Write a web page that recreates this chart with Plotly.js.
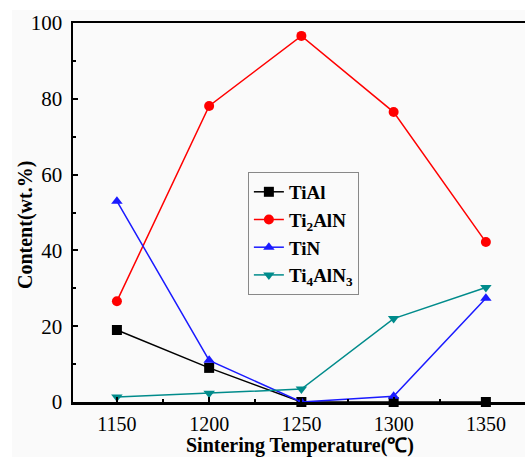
<!DOCTYPE html>
<html><head><meta charset="utf-8">
<script src="https://cdn.plot.ly/plotly-3.0.1.min.js"></script>
<style>html,body{margin:0;padding:0;overflow:hidden;background:#fff;}#c{width:542px;height:457px;}</style>
</head><body><div id="c"></div>
<script>
const temps = [1150, 1200, 1250, 1300, 1350];
const tiAl = [19, 9, 0, 0, 0];
const ti2AlN = [26.6, 78.1, 96.6, 76.5, 42.2];
const tiN = [53, 11, 0, 1.5, 27.4];
const ti4AlN3 = [1.3, 2.3, 3.4, 22, 30.2];
const names = ['TiAl', 'Ti<sub>2</sub>AlN', 'TiN', 'Ti<sub>4</sub>AlN<sub>3</sub>'];
const xTicks = [1150, 1200, 1250, 1300, 1350];
const yTicks = [0, 20, 40, 60, 80, 100];
const xTitle = 'Sintering Temperature(℃)';
const yTitle = 'Content(wt.%)';

const font = '"Liberation Serif", "Times New Roman", serif';
function tr(y, name, color, symbol) {
  return {x: temps, y: y, name: name, type: 'scatter', mode: 'lines+markers', cliponaxis: false,
    line: {color: color, width: 1.5}, marker: {color: color, symbol: symbol, size: 10}};
}
const data = [
  tr(tiAl, names[0], '#000000', 'square'),
  tr(ti2AlN, names[1], '#ff0000', 'circle'),
  tr(tiN, names[2], '#1a1aff', 'triangle-up'),
  tr(ti4AlN3, names[3], '#008b8b', 'triangle-down')
];
const layout = {
  width: 542, height: 457,
  margin: {l: 73, r: 10, t: 23, b: 55},
  paper_bgcolor: '#ffffff', plot_bgcolor: '#fafafa',
  font: {family: font, color: '#000', size: 20},
  showlegend: true,
  legend: {x: 0.381, y: 0.607, xanchor: 'left', yanchor: 'top', bgcolor: '#fafafa',
    bordercolor: '#888', borderwidth: 1, font: {family: font, size: 19, weight: 'bold'},
    tracegroupgap: 0},
  xaxis: {range: [1126.2, 1375], tickvals: xTicks, ticktext: xTicks.map(String),
    ticks: 'inside', ticklen: 5, tickwidth: 2, tickcolor: '#000', ticklabelstandoff: 2,
    minor: {dtick: 25, ticks: 'inside', ticklen: 3, tickwidth: 2, tickcolor: '#000'},
    showline: true, linewidth: 2.5, linecolor: '#000', mirror: true, showgrid: false, zeroline: false,
    tickfont: {family: font, size: 20}},
  yaxis: {range: [0, 100], tickvals: yTicks, ticktext: yTicks.map(String),
    ticks: 'inside', ticklen: 5, tickwidth: 2, tickcolor: '#000', ticklabelstandoff: 4,
    minor: {dtick: 10, ticks: 'inside', ticklen: 3, tickwidth: 2, tickcolor: '#000'},
    showline: true, linewidth: 2.5, linecolor: '#000', mirror: true, showgrid: false, zeroline: false,
    tickfont: {family: font, size: 21}},
  annotations: [
    {text: yTitle, textangle: -90, xref: 'paper', yref: 'paper',
     x: (25 - 73) / 459, y: (402 - 225) / 379, xanchor: 'center', yanchor: 'middle',
     showarrow: false, font: {family: font, size: 20, weight: 'bold'}},
    {text: xTitle, xref: 'paper', yref: 'paper',
     x: (300 - 73) / 459, y: (402 - 445) / 379, xanchor: 'center', yanchor: 'middle',
     showarrow: false, font: {family: font, size: 20, weight: 'bold'}}
  ],
  shapes: [{type: 'rect', xref: 'paper', yref: 'paper', layer: 'below',
    x0: (12 - 73) / 459, x1: 1.1, y0: -0.2, y1: (402 - 10) / 379,
    fillcolor: '#fafafa', line: {width: 0}}]
};
Plotly.newPlot('c', data, layout, {displayModeBar: false, staticPlot: true});
</script></body></html>
